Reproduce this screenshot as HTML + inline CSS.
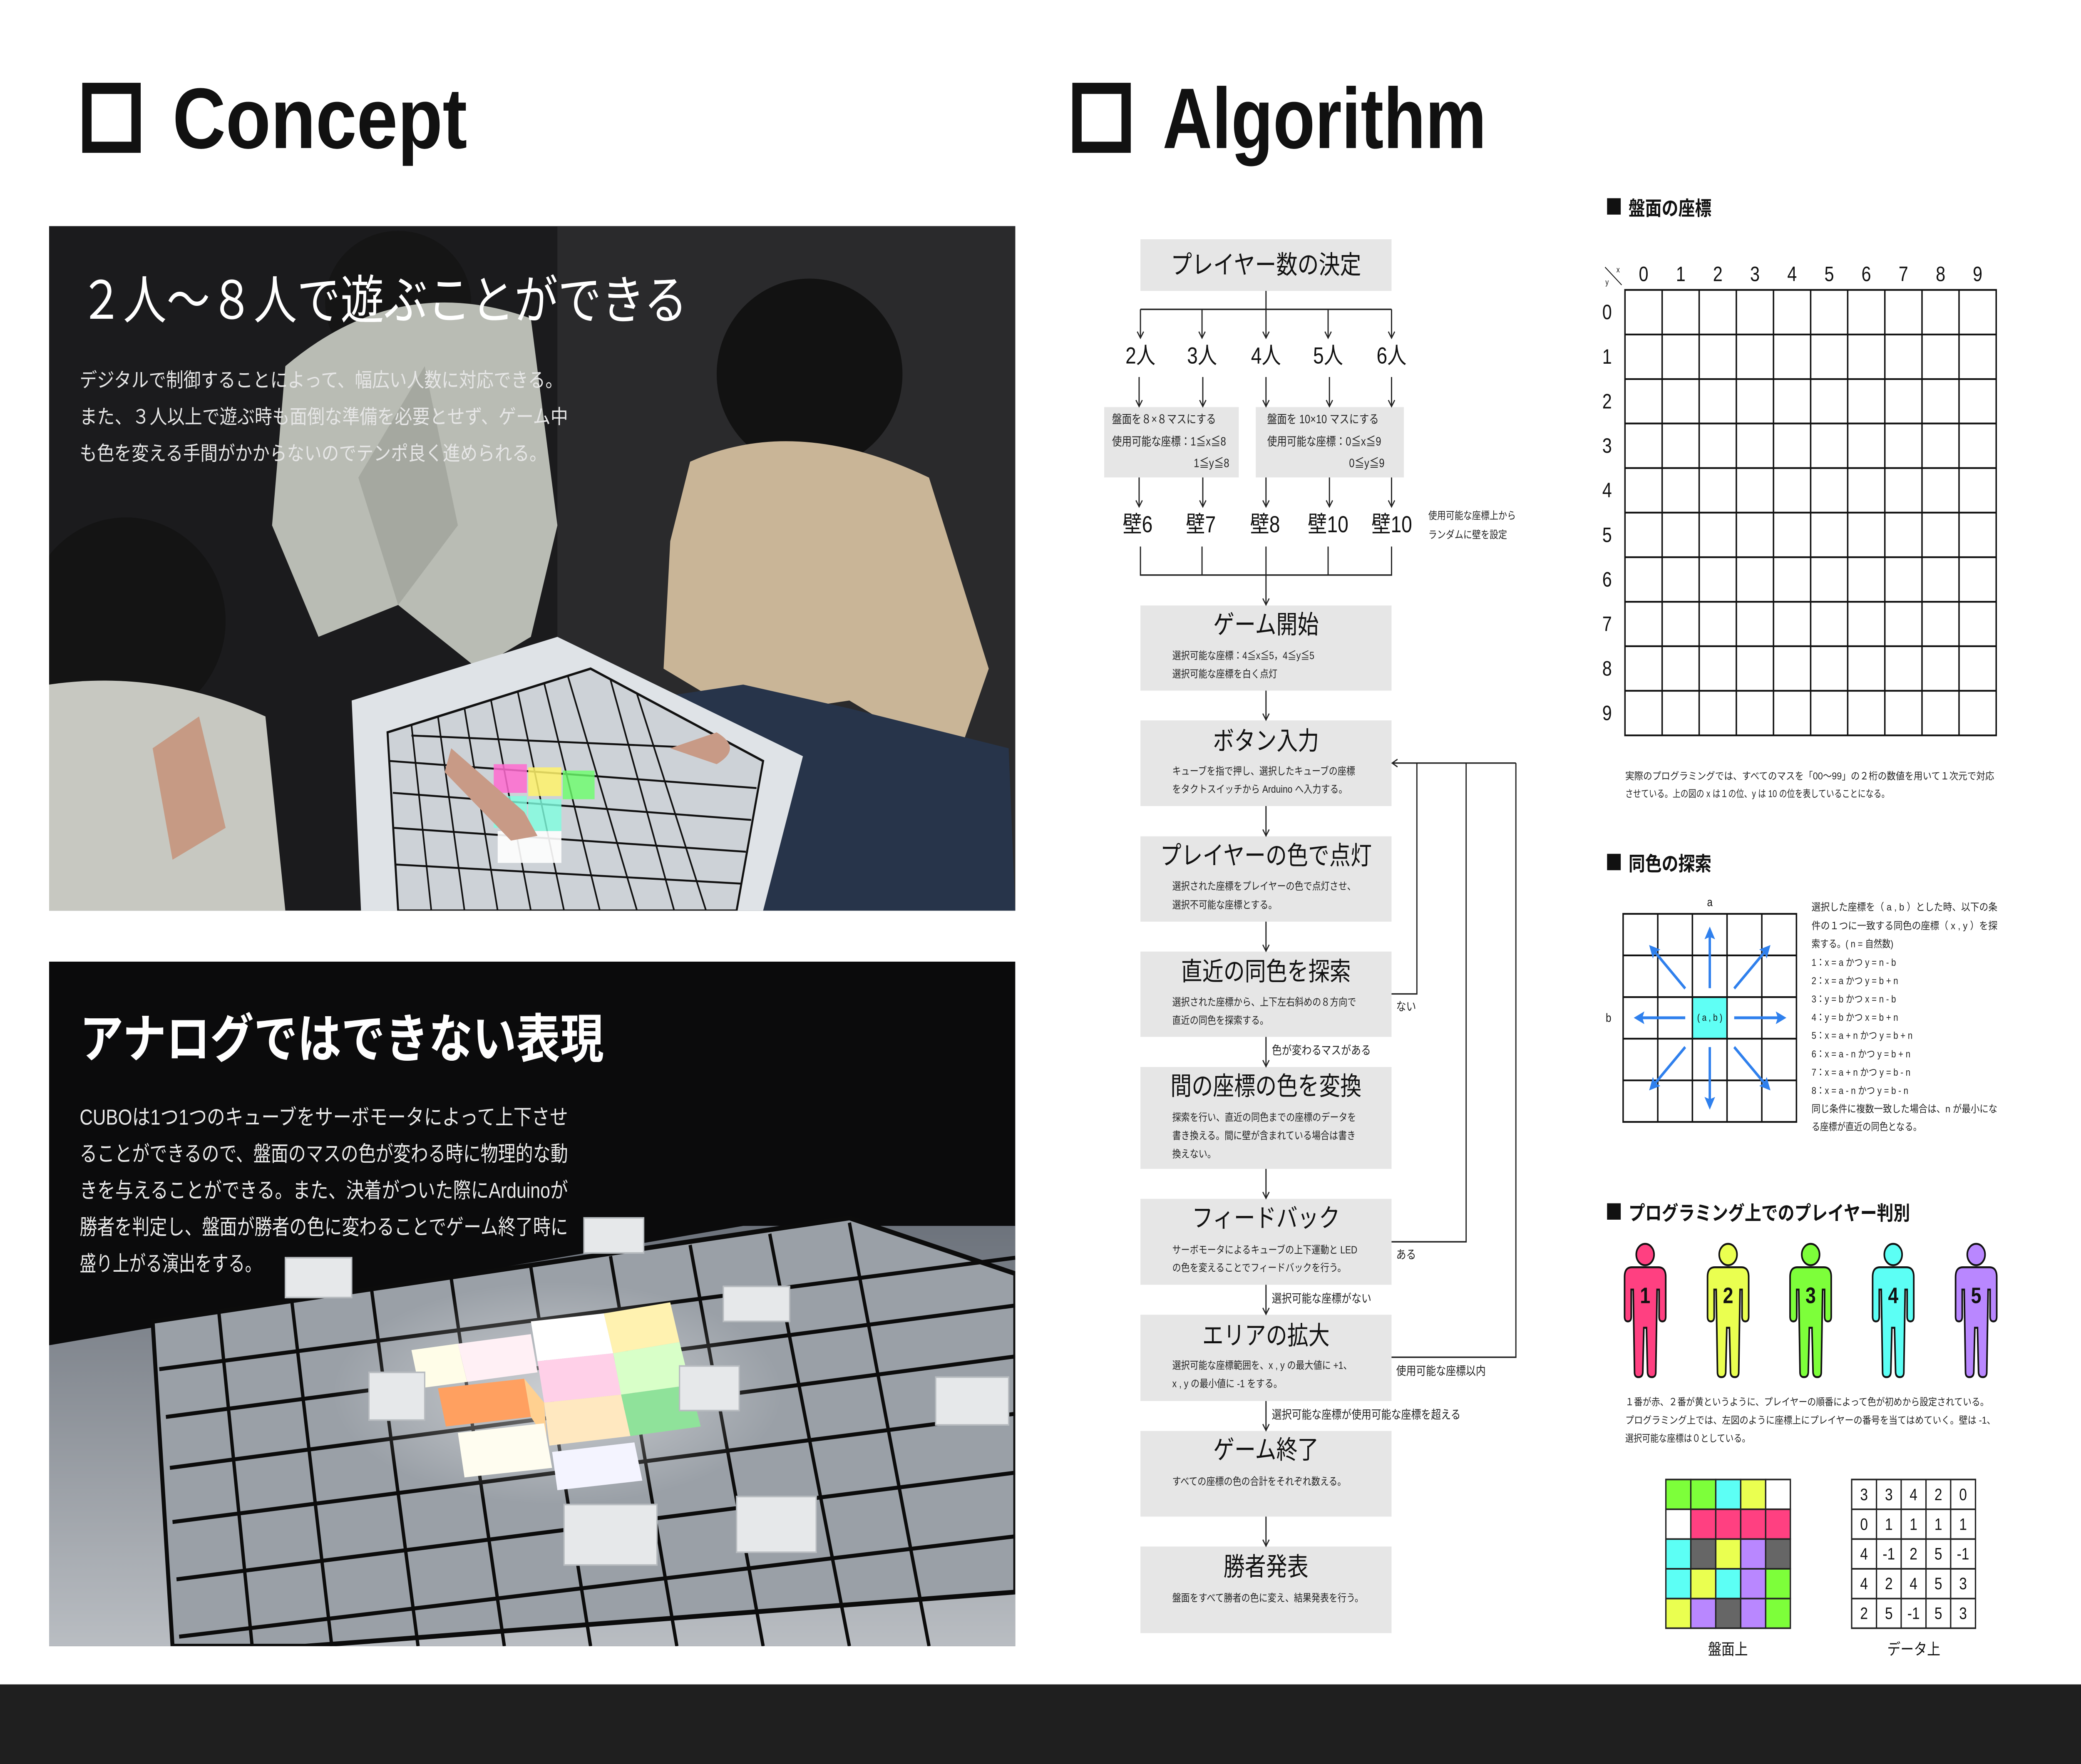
<!DOCTYPE html>
<html><head><meta charset="utf-8">
<style>
html,body{margin:0;padding:0;background:#fff;width:100%;height:100%;overflow:hidden;}
svg.main{display:block;position:fixed;left:0;top:0;width:100vw;height:100vh;}
text{font-family:"Liberation Sans","Noto Sans CJK JP",sans-serif;}
.j{font-family:"Noto Sans CJK JP","Liberation Sans",sans-serif;}
</style></head>
<body>
<svg class="main" xmlns="http://www.w3.org/2000/svg" viewBox="0 0 1568 1108" preserveAspectRatio="none">
<defs>
<marker id="a" markerWidth="6" markerHeight="6" refX="5" refY="3" orient="auto" markerUnits="userSpaceOnUse"><path d="M1,0.6 L5,3 L1,5.4" fill="none" stroke="#222" stroke-width="0.8"/></marker>
<marker id="b" markerWidth="8" markerHeight="8" refX="6" refY="4" orient="auto" markerUnits="userSpaceOnUse"><path d="M0,0 L8,4 L0,8 L1.5,4 Z" fill="#2f80ed"/></marker>
<linearGradient id="bd2" x1="0" y1="0" x2="0" y2="1"><stop offset="0" stop-color="#6d737c"/><stop offset="1" stop-color="#b9bdc2"/></linearGradient>
<radialGradient id="glow" cx="0.5" cy="0.5" r="0.5"><stop offset="0" stop-color="#fff" stop-opacity="0.5"/><stop offset="1" stop-color="#fff" stop-opacity="0"/></radialGradient>
</defs>
<rect width="1568" height="1108" fill="#fff"/>

<rect x="65.5" y="55.5" width="37" height="37" fill="none" stroke="#111" stroke-width="7"/>
<text x="130" y="93" font-size="54" font-weight="bold" fill="#111" textLength="222" lengthAdjust="spacingAndGlyphs">Concept</text>
<rect x="811.5" y="55.5" width="37" height="37" fill="none" stroke="#111" stroke-width="7"/>
<text x="876" y="93" font-size="54" font-weight="bold" fill="#111" textLength="244" lengthAdjust="spacingAndGlyphs">Algorithm</text>

<svg x="37" y="142" width="728" height="430" viewBox="37 142 728 430">
<rect x="37" y="142" width="728" height="430" fill="#1b1b1d"/>
<rect x="420" y="142" width="345" height="430" fill="#2a2a2c"/>
<ellipse cx="300" cy="190" rx="55" ry="45" fill="#151515"/>
<path d="M215,230 Q300,170 400,200 L420,330 L400,400 L360,420 L300,380 L240,400 L205,330 Z" fill="#b9bcb4"/>
<path d="M320,230 L345,330 L300,380 L270,300 Z" fill="#a5a8a0"/>
<ellipse cx="610" cy="235" rx="70" ry="60" fill="#121212"/>
<path d="M520,290 Q600,260 700,300 L745,420 L720,480 L640,440 L560,450 L500,420 L505,340 Z" fill="#c9b597"/>
<path d="M480,440 L560,430 L640,445 L760,470 L765,572 L470,572 Z" fill="#27344a"/>
<ellipse cx="95" cy="390" rx="75" ry="65" fill="#141414"/>
<path d="M37,430 Q120,420 200,450 L215,572 L37,572 Z" fill="#c7c8c1"/>
<path d="M115,470 L150,450 L170,520 L130,540 Z" fill="#c69a84"/>
<path d="M265,440 L420,400 L605,475 L575,572 L272,572 Z" fill="#dfe3e7"/>
<path d="M292,460 L445,420 L575,478 L555,572 L300,572 Z" fill="#cdd2d7" stroke="#111" stroke-width="1.5"/>
<g stroke="#111" stroke-width="1.2">
<line x1="310" y1="455" x2="325" y2="572"/><line x1="330" y1="450" x2="350" y2="572"/><line x1="350" y1="445" x2="375" y2="572"/><line x1="370" y1="440" x2="400" y2="572"/><line x1="390" y1="434" x2="425" y2="572"/><line x1="410" y1="429" x2="452" y2="572"/><line x1="428" y1="425" x2="480" y2="572"/><line x1="460" y1="427" x2="508" y2="572"/><line x1="480" y1="436" x2="532" y2="572"/>
<line x1="294" y1="478" x2="570" y2="495"/><line x1="296" y1="498" x2="566" y2="515"/><line x1="297" y1="520" x2="562" y2="535"/><line x1="298" y1="543" x2="558" y2="555"/><line x1="310" y1="462" x2="535" y2="470"/>
</g>
<rect x="372" y="480" width="25" height="18" fill="#ff6bd0" opacity="0.85"/>
<rect x="398" y="482" width="25" height="18" fill="#fff36b" opacity="0.85"/>
<rect x="424" y="484" width="24" height="18" fill="#6bff6b" opacity="0.8"/>
<rect x="372" y="500" width="25" height="20" fill="#7fffe0" opacity="0.8"/>
<rect x="398" y="502" width="25" height="20" fill="#7fffe0" opacity="0.8"/>
<rect x="375" y="522" width="48" height="20" fill="#ffffff" opacity="0.9"/>
<path d="M340,470 L395,510 L405,525 L385,528 L335,485 Z" fill="#c89a86"/>
<path d="M540,460 Q560,470 540,480 L505,470 Z" fill="#c89a86"/>
</svg>
<text class="j" x="60" y="186" dominant-baseline="central" font-size="33" fill="#fff" textLength="458" lengthAdjust="spacingAndGlyphs">２人〜８人で遊ぶことができる</text>
<g class="j" font-size="12.5" fill="#e6e6e6">
<text x="60" y="239" dominant-baseline="central" textLength="364" lengthAdjust="spacingAndGlyphs">デジタルで制御することによって、幅広い人数に対応できる。</text>
<text x="60" y="262" dominant-baseline="central" textLength="368" lengthAdjust="spacingAndGlyphs">また、３人以上で遊ぶ時も面倒な準備を必要とせず、ゲーム中</text>
<text x="60" y="285" dominant-baseline="central" textLength="352" lengthAdjust="spacingAndGlyphs">も色を変える手間がかからないのでテンポ良く進められる。</text>
</g>

<svg x="37" y="604" width="728" height="430" viewBox="37 604 728 430">
<rect x="37" y="604" width="728" height="430" fill="#0b0b0c"/>
<path d="M37,845 L560,770 L765,770 L765,1034 L37,1034 Z" fill="url(#bd2)"/>
<path d="M115,830 L640,765 L765,800 L765,1000 L230,1034 L130,1034 Z" fill="#9aa0a7" stroke="#0c0c0c" stroke-width="3"/>
<g stroke="#0c0c0c" stroke-width="2.5">
<line x1="120" y1="860" x2="765" y2="790"/><line x1="125" y1="890" x2="765" y2="820"/><line x1="128" y1="922" x2="765" y2="852"/><line x1="130" y1="956" x2="765" y2="888"/><line x1="133" y1="992" x2="765" y2="925"/><line x1="135" y1="1028" x2="765" y2="965"/>
<line x1="165" y1="825" x2="190" y2="1034"/><line x1="220" y1="818" x2="250" y2="1034"/><line x1="280" y1="810" x2="315" y2="1034"/><line x1="340" y1="803" x2="380" y2="1034"/><line x1="400" y1="796" x2="445" y2="1034"/><line x1="460" y1="789" x2="510" y2="1034"/><line x1="520" y1="782" x2="575" y2="1034"/><line x1="580" y1="775" x2="640" y2="1034"/><line x1="640" y1="768" x2="700" y2="1034"/>
</g>
<ellipse cx="420" cy="875" rx="170" ry="70" fill="url(#glow)"/>
<path d="M400,830 L455,825 L462,850 L405,855 Z" fill="#ffffff"/>
<path d="M455,825 L505,818 L512,843 L462,850 Z" fill="#fff2b0"/>
<path d="M310,848 L345,844 L352,868 L316,872 Z" fill="#fffde8"/>
<path d="M345,844 L400,838 L405,862 L352,868 Z" fill="#fff0f5"/>
<path d="M405,855 L462,850 L468,876 L410,881 Z" fill="#ffd0e8"/>
<path d="M462,850 L512,843 L520,870 L468,876 Z" fill="#d8ffc8"/>
<path d="M330,872 L395,866 L400,890 L336,896 Z" fill="#ffa060"/>
<path d="M395,866 L410,881 L412,905 L400,890 Z" fill="#ffd090"/>
<path d="M410,881 L468,876 L475,902 L414,908 Z" fill="#ffe8c0"/>
<path d="M468,876 L520,870 L528,896 L475,902 Z" fill="#8fe29a"/>
<path d="M345,900 L410,894 L416,922 L350,928 Z" fill="#fffdf0"/>
<path d="M416,912 L478,906 L484,930 L420,936 Z" fill="#f4f4ff"/>
<g fill="#e6e8ea" stroke="#b8bcc0" stroke-width="1">
<rect x="440" y="765" width="45" height="22"/><rect x="215" y="790" width="50" height="25"/><rect x="545" y="808" width="50" height="22"/><rect x="278" y="862" width="42" height="30"/><rect x="512" y="858" width="45" height="28"/><rect x="705" y="865" width="55" height="30"/><rect x="425" y="945" width="70" height="38"/><rect x="555" y="940" width="60" height="35"/>
</g>
</svg>
<text class="j" x="60" y="650" dominant-baseline="central" font-size="33" fill="#fff" font-weight="bold" textLength="395" lengthAdjust="spacingAndGlyphs">アナログではできない表現</text>
<g class="j" font-size="13.5" fill="#eaeaea">
<text x="60" y="702" dominant-baseline="central" textLength="368" lengthAdjust="spacingAndGlyphs">CUBOは1つ1つのキューブをサーボモータによって上下させ</text>
<text x="60" y="725" dominant-baseline="central" textLength="368" lengthAdjust="spacingAndGlyphs">ることができるので、盤面のマスの色が変わる時に物理的な動</text>
<text x="60" y="748" dominant-baseline="central" textLength="368" lengthAdjust="spacingAndGlyphs">きを与えることができる。また、決着がついた際にArduinoが</text>
<text x="60" y="771" dominant-baseline="central" textLength="368" lengthAdjust="spacingAndGlyphs">勝者を判定し、盤面が勝者の色に変わることでゲーム終了時に</text>
<text x="60" y="794" dominant-baseline="central" textLength="137" lengthAdjust="spacingAndGlyphs">盛り上がる演出をする。</text>
</g>

<rect x="0" y="1058" width="1568" height="50" fill="#1f1f1f"/>

<g fill="#e6e6e6">
<rect x="859.3" y="150.3" width="189.2" height="32.4"/>
<rect x="832" y="255.7" width="101.4" height="44.2"/>
<rect x="946.2" y="255.7" width="111.6" height="44.2"/>
<rect x="859.3" y="380.3" width="189.2" height="53.5"/>
<rect x="859.3" y="452.5" width="189.2" height="53.8"/>
<rect x="859.3" y="525.3" width="189.2" height="53.6"/>
<rect x="859.3" y="597.7" width="189.2" height="53.6"/>
<rect x="859.3" y="670.2" width="189.2" height="64"/>
<rect x="859.3" y="753" width="189.2" height="54"/>
<rect x="859.3" y="825.8" width="189.2" height="54.2"/>
<rect x="859.3" y="898.8" width="189.2" height="53.8"/>
<rect x="859.3" y="971.4" width="189.2" height="54.4"/>
</g>
<g stroke="#222" stroke-width="0.9" fill="none">
<line x1="953.9" y1="182.7" x2="953.9" y2="194.3"/>
<line x1="859.3" y1="194.3" x2="1048.5" y2="194.3"/>
<line x1="859.3" y1="194.3" x2="859.3" y2="212.3" marker-end="url(#a)"/>
<line x1="905.7" y1="194.3" x2="905.7" y2="212.3" marker-end="url(#a)"/>
<line x1="953.9" y1="194.3" x2="953.9" y2="212.3" marker-end="url(#a)"/>
<line x1="1000.7" y1="194.3" x2="1000.7" y2="212.3" marker-end="url(#a)"/>
<line x1="1048.5" y1="194.3" x2="1048.5" y2="212.3" marker-end="url(#a)"/>
<line x1="858.3" y1="236.8" x2="858.3" y2="255.3" marker-end="url(#a)"/>
<line x1="906.3" y1="236.8" x2="906.3" y2="255.3" marker-end="url(#a)"/>
<line x1="953.9" y1="236.8" x2="953.9" y2="255.3" marker-end="url(#a)"/>
<line x1="1001.7" y1="236.8" x2="1001.7" y2="255.3" marker-end="url(#a)"/>
<line x1="1048.5" y1="236.8" x2="1048.5" y2="255.3" marker-end="url(#a)"/>
<line x1="858.3" y1="299.9" x2="858.3" y2="318.3" marker-end="url(#a)"/>
<line x1="906.3" y1="299.9" x2="906.3" y2="318.3" marker-end="url(#a)"/>
<line x1="953.9" y1="299.9" x2="953.9" y2="318.3" marker-end="url(#a)"/>
<line x1="1001.7" y1="299.9" x2="1001.7" y2="318.3" marker-end="url(#a)"/>
<line x1="1048.5" y1="299.9" x2="1048.5" y2="318.3" marker-end="url(#a)"/>
<polyline points="859.3,343.3 859.3,361.2 1048.5,361.2 1048.5,343.3"/>
<line x1="905.7" y1="343.3" x2="905.7" y2="361.2"/>
<line x1="1000.7" y1="343.3" x2="1000.7" y2="361.2"/>
<line x1="953.9" y1="343.3" x2="953.9" y2="379.9" marker-end="url(#a)"/>
<line x1="953.9" y1="433.8" x2="953.9" y2="452.2" marker-end="url(#a)"/>
<line x1="953.9" y1="506.3" x2="953.9" y2="525" marker-end="url(#a)"/>
<line x1="953.9" y1="578.9" x2="953.9" y2="597.4" marker-end="url(#a)"/>
<line x1="953.9" y1="651.3" x2="953.9" y2="669.9" marker-end="url(#a)"/>
<line x1="953.9" y1="734.2" x2="953.9" y2="752.7" marker-end="url(#a)"/>
<line x1="953.9" y1="807" x2="953.9" y2="825.5" marker-end="url(#a)"/>
<line x1="953.9" y1="880" x2="953.9" y2="898.5" marker-end="url(#a)"/>
<line x1="953.9" y1="952.6" x2="953.9" y2="971.1" marker-end="url(#a)"/>
<line x1="1142.2" y1="479.3" x2="1049" y2="479.3" marker-end="url(#a)"/>
<polyline points="1048.5,624.3 1067.6,624.3 1067.6,479.3"/>
<polyline points="1048.5,780 1104.7,780 1104.7,479.3"/>
<polyline points="1048.5,852.5 1142.2,852.5 1142.2,479.3"/>
</g>
<g class="j" fill="#111" text-anchor="middle" dominant-baseline="central">
<text x="953.9" y="166.3" font-size="16">プレイヤー数の決定</text>
<g font-size="14.5">
<text x="859.3" y="223.3">2人</text><text x="905.7" y="223.3">3人</text><text x="953.9" y="223.3">4人</text><text x="1000.7" y="223.3">5人</text><text x="1048.5" y="223.3">6人</text>
<text x="857.2" y="329.3">壁6</text><text x="904.8" y="329.3">壁7</text><text x="953.2" y="329.3">壁8</text><text x="1000.7" y="329.3">壁10</text><text x="1048.7" y="329.3">壁10</text>
</g>
<text x="953.9" y="392.3" font-size="16">ゲーム開始</text>
<text x="953.9" y="465.3" font-size="16">ボタン入力</text>
<text x="953.9" y="537.3" font-size="16">プレイヤーの色で点灯</text>
<text x="953.9" y="610.2" font-size="16">直近の同色を探索</text>
<text x="953.9" y="682.2" font-size="16">間の座標の色を変換</text>
<text x="953.9" y="765" font-size="16">フィードバック</text>
<text x="953.9" y="838.8" font-size="16">エリアの拡大</text>
<text x="953.9" y="910.6" font-size="16">ゲーム終了</text>
<text x="953.9" y="984" font-size="16">勝者発表</text>
</g>
<g class="j" fill="#222" font-size="6.6" dominant-baseline="central">
<text x="837.9" y="263.3" font-size="7.4">盤面を８×８マスにする</text>
<text x="837.9" y="277.3" font-size="7.4">使用可能な座標：1≦x≦8</text>
<text x="926.2" y="290.9" font-size="7.4" text-anchor="end">1≦y≦8</text>
<text x="954.8" y="263.3" font-size="7.4">盤面を 10×10 マスにする</text>
<text x="954.8" y="277.3" font-size="7.4">使用可能な座標：0≦x≦9</text>
<text x="1043.2" y="290.9" font-size="7.4" text-anchor="end">0≦y≦9</text>
<text x="1076.2" y="323.8">使用可能な座標上から</text>
<text x="1076.2" y="335.8">ランダムに壁を設定</text>
<text x="883.3" y="411.8">選択可能な座標：4≦x≦5，4≦y≦5</text>
<text x="883.3" y="423.2">選択可能な座標を白く点灯</text>
<text x="883.3" y="484.3">キューブを指で押し、選択したキューブの座標</text>
<text x="883.3" y="495.7">をタクトスイッチから Arduino へ入力する。</text>
<text x="883.3" y="556.6">選択された座標をプレイヤーの色で点灯させ、</text>
<text x="883.3" y="568.3">選択不可能な座標とする。</text>
<text x="883.3" y="629.3">選択された座標から、上下左右斜めの８方向で</text>
<text x="883.3" y="640.8">直近の同色を探索する。</text>
<text x="883.3" y="701.7">探索を行い、直近の同色までの座標のデータを</text>
<text x="883.3" y="713.3">書き換える。間に壁が含まれている場合は書き</text>
<text x="883.3" y="724.8">換えない。</text>
<text x="883.3" y="785">サーボモータによるキューブの上下運動と LED</text>
<text x="883.3" y="796.3">の色を変えることでフィードバックを行う。</text>
<text x="883.3" y="857.5">選択可能な座標範囲を、x , y の最大値に +1、</text>
<text x="883.3" y="869">x , y の最小値に -1 をする。</text>
<text x="883.3" y="930.5">すべての座標の色の合計をそれぞれ数える。</text>
<text x="883.3" y="1003.7">盤面をすべて勝者の色に変え、結果発表を行う。</text>
<g font-size="7.5">
<text x="1052" y="632.2">ない</text>
<text x="958.3" y="659.6">色が変わるマスがある</text>
<text x="1052" y="788">ある</text>
<text x="958.3" y="815.6">選択可能な座標がない</text>
<text x="1052" y="861">使用可能な座標以内</text>
<text x="958.3" y="888.5">選択可能な座標が使用可能な座標を超える</text>
</g>
</g>

<rect x="1210.9" y="124.5" width="10.3" height="10.3" fill="#111"/>
<text class="j" x="1227.1" y="129.9" dominant-baseline="central" font-size="12.5" font-weight="bold" fill="#111">盤面の座標</text>
<g stroke="#111" stroke-width="1.1">
<rect x="1224.4" y="182.1" width="279.7" height="279.8" fill="none"/>
<line x1="1252.4" y1="182.1" x2="1252.4" y2="461.9"/><line x1="1280.3" y1="182.1" x2="1280.3" y2="461.9"/><line x1="1308.3" y1="182.1" x2="1308.3" y2="461.9"/><line x1="1336.3" y1="182.1" x2="1336.3" y2="461.9"/><line x1="1364.3" y1="182.1" x2="1364.3" y2="461.9"/><line x1="1392.2" y1="182.1" x2="1392.2" y2="461.9"/><line x1="1420.2" y1="182.1" x2="1420.2" y2="461.9"/><line x1="1448.2" y1="182.1" x2="1448.2" y2="461.9"/><line x1="1476.1" y1="182.1" x2="1476.1" y2="461.9"/>
<line x1="1224.4" y1="210.1" x2="1504.1" y2="210.1"/><line x1="1224.4" y1="238.1" x2="1504.1" y2="238.1"/><line x1="1224.4" y1="266" x2="1504.1" y2="266"/><line x1="1224.4" y1="294" x2="1504.1" y2="294"/><line x1="1224.4" y1="322" x2="1504.1" y2="322"/><line x1="1224.4" y1="350" x2="1504.1" y2="350"/><line x1="1224.4" y1="378" x2="1504.1" y2="378"/><line x1="1224.4" y1="405.9" x2="1504.1" y2="405.9"/><line x1="1224.4" y1="433.9" x2="1504.1" y2="433.9"/>
<line x1="1209.4" y1="167.8" x2="1221.9" y2="179" stroke-width="0.6"/>
</g>
<g font-size="13" fill="#111" text-anchor="middle" dominant-baseline="central">
<text x="1238.4" y="172.2">0</text><text x="1266.4" y="172.2">1</text><text x="1294.3" y="172.2">2</text><text x="1322.3" y="172.2">3</text><text x="1350.3" y="172.2">4</text><text x="1378.3" y="172.2">5</text><text x="1406.2" y="172.2">6</text><text x="1434.2" y="172.2">7</text><text x="1462.2" y="172.2">8</text><text x="1490.1" y="172.2">9</text>
<text x="1210.9" y="196.1">0</text><text x="1210.9" y="224.1">1</text><text x="1210.9" y="252.1">2</text><text x="1210.9" y="280">3</text><text x="1210.9" y="308">4</text><text x="1210.9" y="336">5</text><text x="1210.9" y="364">6</text><text x="1210.9" y="392">7</text><text x="1210.9" y="419.9">8</text><text x="1210.9" y="447.9">9</text>
<text x="1219.2" y="169.4" font-size="5">x</text><text x="1210.9" y="177.2" font-size="5">y</text>
</g>
<g class="j" font-size="6.3" fill="#222" dominant-baseline="central">
<text x="1224.6" y="487.4" textLength="278" lengthAdjust="spacingAndGlyphs">実際のプログラミングでは、すべてのマスを「00〜99」の２桁の数値を用いて１次元で対応</text>
<text x="1224.6" y="498.5" textLength="199" lengthAdjust="spacingAndGlyphs">させている。上の図の x は１の位、y は 10 の位を表していることになる。</text>
</g>

<rect x="1210.9" y="536.3" width="10.3" height="10.3" fill="#111"/>
<text class="j" x="1227.1" y="541.5" dominant-baseline="central" font-size="12.5" font-weight="bold" fill="#111">同色の探索</text>
<rect x="1275.2" y="626.3" width="26.1" height="26.1" fill="#5ffff5"/>
<g stroke="#111" stroke-width="1.1" fill="none">
<rect x="1223" y="574" width="130.6" height="130.7"/>
<line x1="1249.1" y1="574" x2="1249.1" y2="704.7"/><line x1="1275.2" y1="574" x2="1275.2" y2="704.7"/><line x1="1301.3" y1="574" x2="1301.3" y2="704.7"/><line x1="1327.5" y1="574" x2="1327.5" y2="704.7"/>
<line x1="1223" y1="600.1" x2="1353.6" y2="600.1"/><line x1="1223" y1="626.3" x2="1353.6" y2="626.3"/><line x1="1223" y1="652.4" x2="1353.6" y2="652.4"/><line x1="1223" y1="678.6" x2="1353.6" y2="678.6"/>
</g>
<g stroke="#2f80ed" stroke-width="1.8" fill="none">
<line x1="1288.3" y1="620.7" x2="1288.3" y2="584" marker-end="url(#b)"/>
<line x1="1288.3" y1="657.7" x2="1288.3" y2="695" marker-end="url(#b)"/>
<line x1="1269.8" y1="639.3" x2="1233" y2="639.3" marker-end="url(#b)"/>
<line x1="1306.7" y1="639.3" x2="1344" y2="639.3" marker-end="url(#b)"/>
<line x1="1269.8" y1="620.9" x2="1244" y2="595" marker-end="url(#b)"/>
<line x1="1306.7" y1="620.9" x2="1332.6" y2="595" marker-end="url(#b)"/>
<line x1="1269.8" y1="657.7" x2="1244" y2="683.5" marker-end="url(#b)"/>
<line x1="1306.7" y1="657.7" x2="1332.6" y2="683.5" marker-end="url(#b)"/>
</g>
<g font-size="7.5" fill="#111" text-anchor="middle" dominant-baseline="central">
<text x="1288.3" y="566.6">a</text><text x="1212" y="639.3">b</text><text x="1288.3" y="639.3" font-size="6">( a , b )</text>
</g>
<g class="j" font-size="6.4" fill="#222" dominant-baseline="central">
<text x="1365" y="569.8" textLength="140" lengthAdjust="spacingAndGlyphs">選択した座標を（ a , b ）とした時、以下の条</text>
<text x="1365" y="581.5" textLength="140" lengthAdjust="spacingAndGlyphs">件の１つに一致する同色の座標（ x , y ）を探</text>
<text x="1365" y="592.9">索する。( n = 自然数)</text>
<text x="1365" y="604.5">1：x = a かつ y = n - b</text>
<text x="1365" y="616">2：x = a かつ y = b + n</text>
<text x="1365" y="627.5">3：y = b かつ x = n - b</text>
<text x="1365" y="639">4：y = b かつ x = b + n</text>
<text x="1365" y="650.4">5：x = a + n かつ y = b + n</text>
<text x="1365" y="662.1">6：x = a - n かつ y = b + n</text>
<text x="1365" y="673.6">7：x = a + n かつ y = b - n</text>
<text x="1365" y="685">8：x = a - n かつ y = b - n</text>
<text x="1365" y="696.5" textLength="140" lengthAdjust="spacingAndGlyphs">同じ条件に複数一致した場合は、n が最小にな</text>
<text x="1365" y="707.8">る座標が直近の同色となる。</text>
</g>

<rect x="1210.9" y="755.8" width="10.3" height="10.3" fill="#111"/>
<text class="j" x="1227.1" y="761" dominant-baseline="central" font-size="12.5" font-weight="bold" fill="#111">プログラミング上でのプレイヤー判別</text>
<g stroke="#111" stroke-width="1.2">
<g transform="translate(1239.6,796)" fill="#ff4081"><circle cx="0" cy="-8" r="6.7"/><path d="M-10,0 L10,0 Q15.5,0 15.5,6 L15.5,31 Q15.5,34 13,34 Q10.5,34 10.5,31 L10.5,14 L9,14 L8,66 Q8,69 5,69 Q2,69 1.8,66 L1,38 L-1,38 L-1.8,66 Q-2,69 -5,69 Q-8,69 -8,66 L-9,14 L-10.5,14 L-10.5,31 Q-10.5,34 -13,34 Q-15.5,34 -15.5,31 L-15.5,6 Q-15.5,0 -10,0 Z"/></g>
<g transform="translate(1302.1,796)" fill="#eaff50"><circle cx="0" cy="-8" r="6.7"/><path d="M-10,0 L10,0 Q15.5,0 15.5,6 L15.5,31 Q15.5,34 13,34 Q10.5,34 10.5,31 L10.5,14 L9,14 L8,66 Q8,69 5,69 Q2,69 1.8,66 L1,38 L-1,38 L-1.8,66 Q-2,69 -5,69 Q-8,69 -8,66 L-9,14 L-10.5,14 L-10.5,31 Q-10.5,34 -13,34 Q-15.5,34 -15.5,31 L-15.5,6 Q-15.5,0 -10,0 Z"/></g>
<g transform="translate(1364.3,796)" fill="#7dff3a"><circle cx="0" cy="-8" r="6.7"/><path d="M-10,0 L10,0 Q15.5,0 15.5,6 L15.5,31 Q15.5,34 13,34 Q10.5,34 10.5,31 L10.5,14 L9,14 L8,66 Q8,69 5,69 Q2,69 1.8,66 L1,38 L-1,38 L-1.8,66 Q-2,69 -5,69 Q-8,69 -8,66 L-9,14 L-10.5,14 L-10.5,31 Q-10.5,34 -13,34 Q-15.5,34 -15.5,31 L-15.5,6 Q-15.5,0 -10,0 Z"/></g>
<g transform="translate(1426.5,796)" fill="#5cfff5"><circle cx="0" cy="-8" r="6.7"/><path d="M-10,0 L10,0 Q15.5,0 15.5,6 L15.5,31 Q15.5,34 13,34 Q10.5,34 10.5,31 L10.5,14 L9,14 L8,66 Q8,69 5,69 Q2,69 1.8,66 L1,38 L-1,38 L-1.8,66 Q-2,69 -5,69 Q-8,69 -8,66 L-9,14 L-10.5,14 L-10.5,31 Q-10.5,34 -13,34 Q-15.5,34 -15.5,31 L-15.5,6 Q-15.5,0 -10,0 Z"/></g>
<g transform="translate(1489,796)" fill="#b987ff"><circle cx="0" cy="-8" r="6.7"/><path d="M-10,0 L10,0 Q15.5,0 15.5,6 L15.5,31 Q15.5,34 13,34 Q10.5,34 10.5,31 L10.5,14 L9,14 L8,66 Q8,69 5,69 Q2,69 1.8,66 L1,38 L-1,38 L-1.8,66 Q-2,69 -5,69 Q-8,69 -8,66 L-9,14 L-10.5,14 L-10.5,31 Q-10.5,34 -13,34 Q-15.5,34 -15.5,31 L-15.5,6 Q-15.5,0 -10,0 Z"/></g>
</g>
<g font-size="14" font-weight="bold" fill="#111" text-anchor="middle" dominant-baseline="central">
<text x="1239.6" y="813.8">1</text><text x="1302.1" y="813.8">2</text><text x="1364.3" y="813.8">3</text><text x="1426.5" y="813.8">4</text><text x="1489" y="813.8">5</text>
</g>
<g class="j" font-size="6.3" fill="#222" dominant-baseline="central">
<text x="1224.6" y="880.5" textLength="274" lengthAdjust="spacingAndGlyphs">１番が赤、２番が黄というように、プレイヤーの順番によって色が初めから設定されている。</text>
<text x="1224.6" y="892" textLength="279" lengthAdjust="spacingAndGlyphs">プログラミング上では、左図のように座標上にプレイヤーの番号を当てはめていく。壁は -1、</text>
<text x="1224.6" y="903.4">選択可能な座標は０としている。</text>
</g>
<g stroke="#222" stroke-width="1">
<rect x="1255.2" y="929.3" width="18.8" height="18.7" fill="#7dff3a"/><rect x="1274" y="929.3" width="18.8" height="18.7" fill="#7dff3a"/><rect x="1292.8" y="929.3" width="18.8" height="18.7" fill="#5cfff5"/><rect x="1311.6" y="929.3" width="18.8" height="18.7" fill="#eaff50"/><rect x="1330.4" y="929.3" width="18.6" height="18.7" fill="#fff"/>
<rect x="1255.2" y="948" width="18.8" height="18.7" fill="#fff"/><rect x="1274" y="948" width="18.8" height="18.7" fill="#ff4081"/><rect x="1292.8" y="948" width="18.8" height="18.7" fill="#ff4081"/><rect x="1311.6" y="948" width="18.8" height="18.7" fill="#ff4081"/><rect x="1330.4" y="948" width="18.6" height="18.7" fill="#ff4081"/>
<rect x="1255.2" y="966.7" width="18.8" height="18.7" fill="#5cfff5"/><rect x="1274" y="966.7" width="18.8" height="18.7" fill="#666"/><rect x="1292.8" y="966.7" width="18.8" height="18.7" fill="#eaff50"/><rect x="1311.6" y="966.7" width="18.8" height="18.7" fill="#b987ff"/><rect x="1330.4" y="966.7" width="18.6" height="18.7" fill="#666"/>
<rect x="1255.2" y="985.4" width="18.8" height="18.7" fill="#5cfff5"/><rect x="1274" y="985.4" width="18.8" height="18.7" fill="#eaff50"/><rect x="1292.8" y="985.4" width="18.8" height="18.7" fill="#5cfff5"/><rect x="1311.6" y="985.4" width="18.8" height="18.7" fill="#b987ff"/><rect x="1330.4" y="985.4" width="18.6" height="18.7" fill="#7dff3a"/>
<rect x="1255.2" y="1004.1" width="18.8" height="18.6" fill="#eaff50"/><rect x="1274" y="1004.1" width="18.8" height="18.6" fill="#b987ff"/><rect x="1292.8" y="1004.1" width="18.8" height="18.6" fill="#666"/><rect x="1311.6" y="1004.1" width="18.8" height="18.6" fill="#b987ff"/><rect x="1330.4" y="1004.1" width="18.6" height="18.6" fill="#7dff3a"/>
</g>
<g stroke="#222" stroke-width="1" fill="none">
<rect x="1395.2" y="929.3" width="93.3" height="93.4"/>
<line x1="1413.9" y1="929.3" x2="1413.9" y2="1022.7"/><line x1="1432.5" y1="929.3" x2="1432.5" y2="1022.7"/><line x1="1451.2" y1="929.3" x2="1451.2" y2="1022.7"/><line x1="1469.8" y1="929.3" x2="1469.8" y2="1022.7"/>
<line x1="1395.2" y1="948" x2="1488.5" y2="948"/><line x1="1395.2" y1="966.7" x2="1488.5" y2="966.7"/><line x1="1395.2" y1="985.4" x2="1488.5" y2="985.4"/><line x1="1395.2" y1="1004.1" x2="1488.5" y2="1004.1"/>
</g>
<g font-size="10.5" fill="#111" text-anchor="middle" dominant-baseline="central">
<text x="1404.5" y="938.7">3</text><text x="1423.2" y="938.7">3</text><text x="1441.8" y="938.7">4</text><text x="1460.5" y="938.7">2</text><text x="1479.1" y="938.7">0</text>
<text x="1404.5" y="957.4">0</text><text x="1423.2" y="957.4">1</text><text x="1441.8" y="957.4">1</text><text x="1460.5" y="957.4">1</text><text x="1479.1" y="957.4">1</text>
<text x="1404.5" y="976">4</text><text x="1423.2" y="976">-1</text><text x="1441.8" y="976">2</text><text x="1460.5" y="976">5</text><text x="1479.1" y="976">-1</text>
<text x="1404.5" y="994.7">4</text><text x="1423.2" y="994.7">2</text><text x="1441.8" y="994.7">4</text><text x="1460.5" y="994.7">5</text><text x="1479.1" y="994.7">3</text>
<text x="1404.5" y="1013.4">2</text><text x="1423.2" y="1013.4">5</text><text x="1441.8" y="1013.4">-1</text><text x="1460.5" y="1013.4">5</text><text x="1479.1" y="1013.4">3</text>
</g>
<g class="j" font-size="10" fill="#111" text-anchor="middle" dominant-baseline="central">
<text x="1302" y="1036.1">盤面上</text><text x="1442" y="1036.1">データ上</text>
</g>
</svg>
</body></html>
